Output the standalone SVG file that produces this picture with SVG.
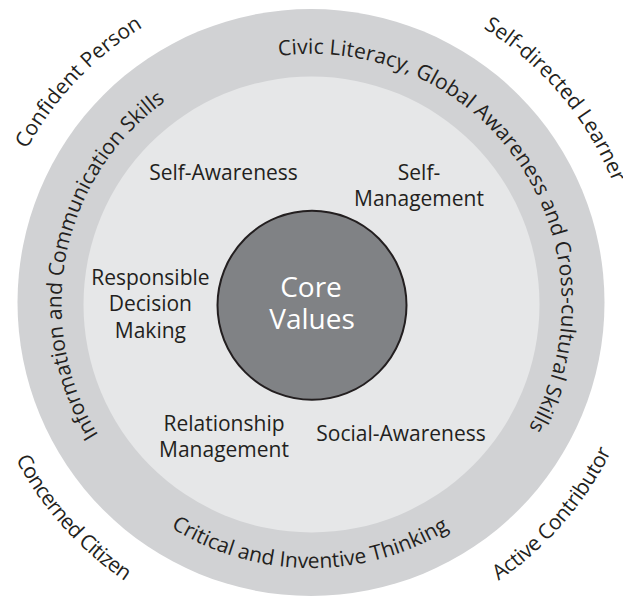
<svg xmlns="http://www.w3.org/2000/svg" xmlns:xlink="http://www.w3.org/1999/xlink" width="623" height="597" viewBox="0 0 623 597">
<style>
text{font-family:"Open Sans","Noto Sans","Liberation Sans",sans-serif;fill:#231f20;font-size:21px}
.c{text-anchor:middle}
.core{fill:#ffffff;font-size:28px;text-anchor:middle}
</style>
<defs>
<path id="pCivic" d="M190.7,85.1 A250,250 0 0,1 468.5,498.6"/>
<path id="pInfo" d="M220.5,536.9 A250,250 0 0,1 317.4,54.1"/>
<path id="pCrit" d="M82.0,434.6 A264,264 0 0,0 539.3,437.4"/>
<path id="pConf" d="M-11.9,283.7 A324,324 0 0,1 275.4,-18.0"/>
<path id="pSelfD" d="M367.9,-16.1 A325,325 0 0,1 636.5,304"/>
<path id="pConc" d="M-22.3,314.5 A334,334 0 0,0 263.9,634.6"/>
<path id="pAct" d="M363.2,634.0 A334,334 0 0,0 645.4,310.4"/>
</defs>
<g id="outer-ring">
<circle cx="311" cy="302.5" r="293.5" fill="#d1d2d4"/>
<text><textPath xlink:href="#pCivic" href="#pCivic" startOffset="50%" text-anchor="middle" letter-spacing="0.1">Civic Literacy, Global Awareness and Cross-cultural Skills</textPath></text>
<text><textPath xlink:href="#pInfo" href="#pInfo" startOffset="50%" text-anchor="middle">Information and Communication Skills</textPath></text>
<text><textPath xlink:href="#pCrit" href="#pCrit" startOffset="50%" text-anchor="middle">Critical and Inventive Thinking</textPath></text>
</g>
<g id="outcomes">
<text><textPath xlink:href="#pConf" href="#pConf" startOffset="50%" text-anchor="middle">Confident Person</textPath></text>
<text><textPath xlink:href="#pSelfD" href="#pSelfD" startOffset="50%" text-anchor="middle">Self-directed Learner</textPath></text>
<text><textPath xlink:href="#pConc" href="#pConc" startOffset="50%" text-anchor="middle" letter-spacing="-0.8">Concerned Citizen</textPath></text>
<text><textPath xlink:href="#pAct" href="#pAct" startOffset="50%" text-anchor="middle" letter-spacing="-0.3">Active Contributor</textPath></text>
</g>
<g id="inner-ring">
<circle cx="311.5" cy="304.5" r="228" fill="#e6e7e8"/>
</g>
<g id="self-awareness"><text class="c" x="223.5" y="180">Self-Awareness</text></g>
<g id="self-management"><text class="c" x="419" y="180">Self-</text><text class="c" x="419" y="206">Management</text></g>
<g id="responsible-decision-making"><text class="c" x="150.4" y="285">Responsible</text><text class="c" x="150.4" y="311">Decision</text><text class="c" x="150.4" y="337.5">Making</text></g>
<g id="relationship-management"><text class="c" x="224" y="431">Relationship</text><text class="c" x="224" y="457">Management</text></g>
<g id="social-awareness"><text class="c" x="401" y="441">Social-Awareness</text></g>
<g id="core-values">
<circle cx="312" cy="305.3" r="94.5" fill="#808285" stroke="#231f20" stroke-width="2"/>
<text class="core" x="311" y="297.3">Core</text>
<text class="core" x="312" y="329.3">Values</text>
</g>
</svg>
